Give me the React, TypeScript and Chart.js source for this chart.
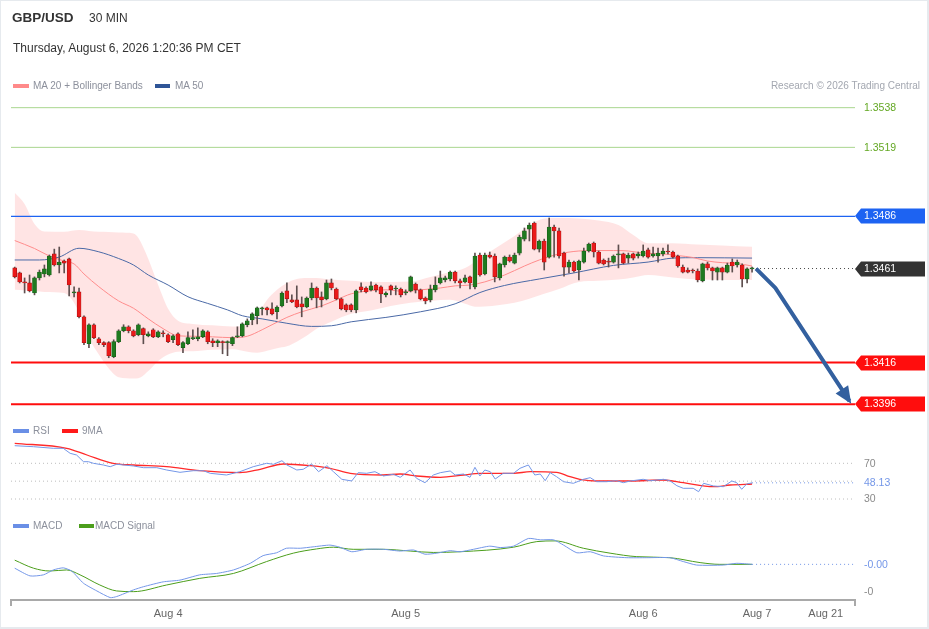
import React, { useEffect, useRef } from 'react';
import { Chart, registerables } from 'chart.js';

Chart.register(...registerables);

const FONT = '"Liberation Sans", Arial, Helvetica, sans-serif';

// ---- candles (30 min), index 0..149 ----
const opens = [1.34613,1.34589,1.34546,1.34541,1.34493,1.34565,1.34584,1.34579,1.34680,1.34627,1.34646,1.34656,1.34493,1.34498,1.34379,1.34250,1.34341,1.34274,1.34255,1.34255,1.34188,1.34260,1.34312,1.34331,1.34312,1.34293,1.34322,1.34288,1.34317,1.34283,1.34302,1.34293,1.34269,1.34298,1.34231,1.34250,1.34274,1.34274,1.34283,1.34307,1.34264,1.34255,1.34260,1.34255,1.34250,1.34283,1.34288,1.34341,1.34364,1.34384,1.34417,1.34422,1.34417,1.34403,1.34431,1.34503,1.34460,1.34460,1.34441,1.34426,1.34469,1.34517,1.34474,1.34465,1.34541,1.34512,1.34465,1.34436,1.34436,1.34412,1.34522,1.34517,1.34508,1.34531,1.34522,1.34484,1.34527,1.34512,1.34512,1.34493,1.34503,1.34536,1.34508,1.34469,1.34460,1.34508,1.34541,1.34555,1.34560,1.34593,1.34551,1.34546,1.34570,1.34522,1.34675,1.34584,1.34675,1.34670,1.34565,1.34627,1.34665,1.34636,1.34684,1.34751,1.34799,1.34828,1.34703,1.34742,1.34665,1.34809,1.34790,1.34684,1.34617,1.34641,1.34603,1.34641,1.34694,1.34732,1.34689,1.34651,1.34646,1.34641,1.34675,1.34680,1.34660,1.34680,1.34670,1.34670,1.34699,1.34670,1.34670,1.34680,1.34694,1.34689,1.34670,1.34617,1.34603,1.34603,1.34598,1.34551,1.34632,1.34613,1.34593,1.34613,1.34593,1.34641,1.34627,1.34627,1.34560,1.34608];
const highs = [1.34617,1.34593,1.34565,1.34579,1.34570,1.34603,1.34627,1.34675,1.34703,1.34713,1.34651,1.34660,1.34522,1.34517,1.34384,1.34345,1.34345,1.34279,1.34260,1.34260,1.34269,1.34317,1.34341,1.34336,1.34317,1.34345,1.34326,1.34307,1.34322,1.34312,1.34312,1.34298,1.34293,1.34302,1.34260,1.34307,1.34317,1.34326,1.34317,1.34312,1.34274,1.34269,1.34264,1.34264,1.34283,1.34331,1.34350,1.34369,1.34398,1.34426,1.34426,1.34426,1.34446,1.34431,1.34498,1.34541,1.34484,1.34527,1.34474,1.34474,1.34541,1.34522,1.34498,1.34555,1.34560,1.34517,1.34469,1.34441,1.34441,1.34508,1.34541,1.34522,1.34546,1.34536,1.34527,1.34498,1.34531,1.34527,1.34517,1.34508,1.34574,1.34541,1.34512,1.34474,1.34531,1.34570,1.34598,1.34574,1.34598,1.34598,1.34560,1.34579,1.34574,1.34684,1.34684,1.34684,1.34689,1.34680,1.34636,1.34670,1.34675,1.34684,1.34770,1.34804,1.34828,1.34833,1.34747,1.34751,1.34852,1.34818,1.34804,1.34689,1.34651,1.34646,1.34651,1.34708,1.34732,1.34737,1.34694,1.34656,1.34660,1.34675,1.34723,1.34684,1.34684,1.34684,1.34689,1.34723,1.34708,1.34713,1.34708,1.34708,1.34723,1.34694,1.34675,1.34627,1.34613,1.34608,1.34608,1.34636,1.34641,1.34617,1.34617,1.34617,1.34636,1.34656,1.34651,1.34632,1.34613,1.34617];
const lows = [1.34565,1.34541,1.34493,1.34498,1.34484,1.34555,1.34570,1.34574,1.34622,1.34589,1.34589,1.34479,1.34474,1.34374,1.34245,1.34231,1.34274,1.34245,1.34236,1.34183,1.34183,1.34255,1.34307,1.34302,1.34283,1.34288,1.34250,1.34283,1.34279,1.34279,1.34283,1.34255,1.34255,1.34241,1.34207,1.34245,1.34269,1.34264,1.34279,1.34250,1.34236,1.34236,1.34202,1.34193,1.34241,1.34279,1.34283,1.34331,1.34341,1.34345,1.34388,1.34388,1.34388,1.34369,1.34426,1.34446,1.34446,1.34422,1.34379,1.34422,1.34460,1.34422,1.34426,1.34460,1.34508,1.34460,1.34412,1.34403,1.34403,1.34398,1.34498,1.34493,1.34503,1.34498,1.34446,1.34474,1.34484,1.34484,1.34474,1.34484,1.34498,1.34493,1.34460,1.34441,1.34450,1.34498,1.34536,1.34546,1.34551,1.34541,1.34517,1.34541,1.34512,1.34512,1.34574,1.34579,1.34660,1.34546,1.34555,1.34617,1.34641,1.34632,1.34675,1.34742,1.34742,1.34699,1.34689,1.34603,1.34660,1.34665,1.34660,1.34574,1.34589,1.34593,1.34555,1.34636,1.34689,1.34665,1.34632,1.34627,1.34617,1.34636,1.34613,1.34632,1.34636,1.34651,1.34660,1.34665,1.34660,1.34665,1.34641,1.34670,1.34680,1.34660,1.34617,1.34589,1.34589,1.34589,1.34546,1.34546,1.34603,1.34555,1.34555,1.34555,1.34589,1.34593,1.34617,1.34522,1.34541,1.34593];
const closes = [1.34570,1.34546,1.34541,1.34503,1.34565,1.34593,1.34608,1.34670,1.34627,1.34641,1.34636,1.34531,1.34498,1.34379,1.34255,1.34341,1.34279,1.34255,1.34245,1.34193,1.34260,1.34312,1.34331,1.34312,1.34288,1.34341,1.34293,1.34298,1.34283,1.34307,1.34298,1.34260,1.34288,1.34245,1.34255,1.34279,1.34279,1.34283,1.34312,1.34260,1.34255,1.34264,1.34255,1.34260,1.34279,1.34288,1.34345,1.34360,1.34393,1.34422,1.34422,1.34412,1.34393,1.34426,1.34493,1.34465,1.34450,1.34426,1.34426,1.34469,1.34517,1.34469,1.34460,1.34541,1.34517,1.34465,1.34417,1.34412,1.34412,1.34503,1.34508,1.34498,1.34527,1.34508,1.34489,1.34493,1.34508,1.34517,1.34484,1.34498,1.34570,1.34508,1.34465,1.34455,1.34512,1.34531,1.34565,1.34565,1.34593,1.34551,1.34541,1.34565,1.34541,1.34670,1.34579,1.34675,1.34665,1.34570,1.34632,1.34665,1.34646,1.34675,1.34761,1.34790,1.34818,1.34703,1.34742,1.34641,1.34809,1.34790,1.34670,1.34617,1.34641,1.34598,1.34646,1.34694,1.34727,1.34689,1.34636,1.34632,1.34641,1.34670,1.34680,1.34636,1.34675,1.34660,1.34680,1.34694,1.34665,1.34680,1.34684,1.34694,1.34689,1.34665,1.34622,1.34593,1.34593,1.34598,1.34555,1.34632,1.34613,1.34598,1.34613,1.34593,1.34627,1.34622,1.34641,1.34560,1.34608,1.34613];

// ---- MA 20 + Bollinger Bands, MA 50 ----
const ma20X = [0,4,7,10,12,14,17,21,24,27,30,33,36,40,44,47,50,52,55,58,62,65,68,72,75,79,82,86,89,92,95,99,103,106,110,114,117,121,124,127,131,134,137,140,143,146,149];
const ma20Y = [1.34744,1.34706,1.34670,1.34646,1.34632,1.34584,1.34523,1.34455,1.34420,1.34369,1.34322,1.34288,1.34286,1.34283,1.34279,1.34286,1.34317,1.34341,1.34376,1.34403,1.34431,1.34460,1.34489,1.34504,1.34508,1.34500,1.34508,1.34517,1.34527,1.34531,1.34546,1.34579,1.34622,1.34651,1.34680,1.34694,1.34696,1.34696,1.34694,1.34684,1.34680,1.34672,1.34663,1.34646,1.34638,1.34634,1.34622];
const ma50X = [0,5,9,13,17,21,24,27,31,35,39,43,46,50,55,60,64,68,75,82,89,94,99,106,113,121,128,133,138,149];
const ma50Y = [1.34651,1.34651,1.34665,1.34707,1.34690,1.34658,1.34627,1.34579,1.34531,1.34475,1.34443,1.34412,1.34384,1.34369,1.34348,1.34333,1.34336,1.34355,1.34376,1.34403,1.34441,1.34495,1.34529,1.34560,1.34589,1.34625,1.34641,1.34660,1.34662,1.34660];
const bbX = [0,2,4,6,10,13,15,17,19,21,24,25,27,29,31,33,36,40,44,47,49,51,53,55,57,59,61,64,68,72,76,80,84,88,91,93,95,98,101,104,107,110,114,118,122,125,128,133,138,143,149];
const bbUpper = [1.34973,1.34919,1.34823,1.34787,1.34786,1.34794,1.34790,1.34786,1.34785,1.34782,1.34778,1.34756,1.34656,1.34531,1.34417,1.34360,1.34345,1.34338,1.34333,1.34345,1.34388,1.34460,1.34508,1.34541,1.34560,1.34565,1.34565,1.34557,1.34551,1.34546,1.34546,1.34548,1.34570,1.34593,1.34613,1.34641,1.34675,1.34720,1.34766,1.34816,1.34849,1.34852,1.34850,1.34840,1.34818,1.34770,1.34731,1.34731,1.34725,1.34720,1.34714];
const bbLower = [1.34508,1.34505,1.34503,1.34498,1.34493,1.34403,1.34279,1.34198,1.34132,1.34090,1.34084,1.34085,1.34119,1.34167,1.34198,1.34212,1.34214,1.34221,1.34224,1.34212,1.34207,1.34217,1.34229,1.34238,1.34260,1.34288,1.34322,1.34355,1.34393,1.34409,1.34431,1.34446,1.34455,1.34460,1.34441,1.34427,1.34428,1.34436,1.34446,1.34465,1.34489,1.34512,1.34546,1.34551,1.34557,1.34567,1.34579,1.34567,1.34557,1.34555,1.34555];

// ---- levels ----
const resistances = [1.3538, 1.3519];
const pivot = 1.3486;
const supports = [1.3416, 1.3396];
const lastPrice = 1.3461;
const arrowX = [149.8, 153.7, 168.7];
const arrowY = [1.3461, 1.34517, 1.33975];

// ---- RSI ----
const rsiX = [0,3.8,7.8,9.8,11.2,12.5,13.9,14.9,15.9,17.9,19.3,20.6,24,26,28.7,30.7,33.4,36.1,38.1,39.5,42.8,45.5,48.2,50.9,52.3,54,55,57,58.3,60,61.4,63.1,64.4,66.1,68.1,69.4,71.1,72.8,74.5,76.5,77.9,79.9,81.2,82.9,84.6,86,88,89,90.7,92,93,94,95,96.1,97.1,98.7,100.8,102.1,103.8,105.1,106.2,107.2,108.2,109.5,110.9,112.9,114.9,116.3,117.6,119.6,121.6,123,124.4,127,128.4,131.1,132.4,133.8,135.1,137.1,138.2,139.2,141.2,143.2,144.9,145.9,146.9,147.9,149];
const rsiY = [89.7,88.6,86.8,86.8,81.2,79.3,71.8,71.8,70,68.1,66.2,68.9,67,65.1,65.1,62.5,59.9,61.7,61.7,58.8,56.9,60.6,66.2,70,68.9,72.9,68.1,62.5,63.3,69.2,60.6,67.3,60.6,52.1,50.2,59.5,58.8,60.6,55.8,57.7,54.3,62.5,53.2,48.3,56.9,59.5,61.4,56.9,58,54.3,65.5,55.8,62.5,60.6,52.4,58.8,58.8,64.4,68.1,56.9,58,50.5,59.5,55,49.4,47.6,52.1,53.9,49.4,49.4,50.5,48.3,50.2,52.1,50.5,52.1,50.5,44.9,42,42,38.2,47.6,44.6,43.8,50.2,48.3,40.9,46.8,48.13];
const rsiMaX = [0,10.5,14.6,19.9,24,30.7,37.4,45.5,49.6,54.3,59.7,63.7,67.8,74.5,77.9,81.2,86,90.7,94,100.8,104.2,109.5,112.2,114.2,117.6,124.4,131.1,135.1,141.2,144.6,149];
const rsiMaY = [92.4,86.8,79.3,70,68.1,66.2,61.7,59.5,63.3,69.2,67.3,64.4,58.8,56.9,58,55.8,54.3,56.9,58.8,58.8,60.6,59.9,55,52.1,50.2,50.2,51.3,48.3,43.8,45.7,46.8];
const rsiLevels = [70, 50, 30];
const rsiTickLabels = [70, 30];

// ---- MACD ----
const macdX = [0,3.1,5.8,7.8,9.8,11.5,13.9,16.6,19.3,20.6,24,26,30,33.4,37.4,40.8,44.2,47.6,50.2,52.9,54.9,57.7,60.3,63.7,65.7,68.1,71.1,74.5,77.9,80.6,82.9,85.3,88,90,92.7,96,98.1,100.8,103.8,106.2,108.9,110.9,113.6,116.3,119,123.7,127.7,132.4,135.1,137.8,143.2,145.9,149];
const macdY = [-0.00032,-0.00054,-0.00051,-0.00037,-0.00031,-0.0004,-0.00075,-0.00097,-0.00116,-0.00113,-0.00094,-0.00085,-0.00071,-0.00066,-0.00051,-0.00047,-0.00037,-0.00018,0.00004,0.00012,0.00025,0.00025,0.00029,0.00034,0.00028,0.00015,0.00022,0.00022,0.00017,0.0002,0.00008,0.00011,0.00018,0.00015,0.00022,0.00031,0.00027,0.00031,0.00053,0.00049,0.00049,0.00034,0.00012,0.00015,0.00003,-0.00002,-0.00002,-0.00002,-0.00013,-0.00023,-0.00023,-0.00018,-0.00021];
const signalX = [0,3.8,7.1,10.5,13.2,17.2,20.6,24,30.7,37.4,44.2,50.9,56.3,61,64.4,68.4,74.5,79.9,84.6,90,100.8,105.5,109.2,114.9,120.3,125.7,132.4,138.5,142.5,149];
const signalY = [-0.00009,-0.00032,-0.0004,-0.00037,-0.00051,-0.0008,-0.00097,-0.00099,-0.0008,-0.00061,-0.00047,-0.00013,0.00011,0.00023,0.00028,0.00022,0.00022,0.00017,0.00013,0.00015,0.00028,0.00044,0.00046,0.00025,0.00011,0.00001,-0.00002,-0.00016,-0.00021,-0.00021];
const macdTickValues = [-0.001];

// ---- x axis ----
const tickValues = [31, 79, 127, 150, 163.9];
const tickLabels = ['Aug 4', 'Aug 5', 'Aug 6', 'Aug 7', 'Aug 21'];
const XMIN = -0.75;
const XMAX = 169.8;

const pts = (xs: number[], ys: number[]) => xs.map((x, i) => ({ x, y: ys[i] }));
const hline = (x0: number, v: number) => [{ x: x0, y: v }, { x: XMAX, y: v }];

const GREEN_LINE = '#a9d68e';
const GREEN_TEXT = '#63a823';
const BLUE = '#1d63f2';
const RED = '#ff0d0d';
const DARK = '#333333';
const IND_BLUE = '#7497e8';
const AXIS = '#a9a9a9';

const sidePlugin = {
  id: 'sideLabels',
  afterDatasetsDraw(chart: any) {
    const ctx = chart.ctx;
    const xs = chart.scales.x;
    const ys = chart.scales.y;
    const yr = chart.scales.yR;
    const ym = chart.scales.yM;
    const { left, right, bottom } = chart.chartArea;
    ctx.save();

    // axis end ticks
    ctx.strokeStyle = AXIS;
    ctx.lineWidth = 2;
    ctx.beginPath();
    ctx.moveTo(left, bottom);
    ctx.lineTo(left, bottom + 6);
    ctx.moveTo(right, bottom);
    ctx.lineTo(right, bottom + 6);
    ctx.stroke();

    // arrow head
    const n = arrowX.length;
    const x1 = xs.getPixelForValue(arrowX[n - 2]);
    const y1 = ys.getPixelForValue(arrowY[n - 2]);
    const x2 = xs.getPixelForValue(arrowX[n - 1]);
    const y2 = ys.getPixelForValue(arrowY[n - 1]);
    const L = Math.hypot(x2 - x1, y2 - y1);
    const ux = (x2 - x1) / L;
    const uy = (y2 - y1) / L;
    const tx = x2 + ux * 3;
    const ty = y2 + uy * 3;
    const bx = tx - ux * 17;
    const by = ty - uy * 17;
    ctx.fillStyle = '#33609f';
    ctx.beginPath();
    ctx.moveTo(tx, ty);
    ctx.lineTo(bx - uy * 7.5, by + ux * 7.5);
    ctx.lineTo(bx + uy * 7.5, by - ux * 7.5);
    ctx.closePath();
    ctx.fill();

    ctx.font = '10.5px ' + FONT;
    ctx.textBaseline = 'middle';
    ctx.textAlign = 'left';

    const tag = (v: number, color: string) => {
      const py = Math.round(ys.getPixelForValue(v));
      ctx.fillStyle = color;
      ctx.beginPath();
      ctx.moveTo(right, py);
      ctx.lineTo(right + 6, py - 7.5);
      ctx.lineTo(right + 70, py - 7.5);
      ctx.lineTo(right + 70, py + 7.5);
      ctx.lineTo(right + 6, py + 7.5);
      ctx.closePath();
      ctx.fill();
      ctx.fillStyle = '#ffffff';
      ctx.fillText(v.toFixed(4), right + 9, py + 0.5);
    };
    resistances.forEach((v) => {
      ctx.fillStyle = GREEN_TEXT;
      ctx.fillText(v.toFixed(4), right + 9, ys.getPixelForValue(v) + 0.5);
    });
    tag(pivot, BLUE);
    tag(lastPrice, DARK);
    supports.forEach((v) => tag(v, RED));

    // RSI labels
    ctx.fillStyle = '#8a8a8a';
    rsiTickLabels.forEach((v) => ctx.fillText(String(v), right + 9, yr.getPixelForValue(v) + 0.5));
    ctx.fillStyle = IND_BLUE;
    ctx.fillText(rsiY[rsiY.length - 1].toFixed(2), right + 9, yr.getPixelForValue(rsiY[rsiY.length - 1]) + 0.5);

    // MACD labels
    ctx.fillStyle = '#8a8a8a';
    macdTickValues.forEach((v) => ctx.fillText(v.toFixed(0), right + 9, ym.getPixelForValue(v) + 0.5));
    ctx.fillStyle = IND_BLUE;
    ctx.fillText(macdY[macdY.length - 1].toFixed(2), right + 9, ym.getPixelForValue(macdY[macdY.length - 1]) + 0.5);

    ctx.restore();
  },
};

export default function App() {
  const ref = useRef<HTMLCanvasElement>(null);

  useEffect(() => {
    const idx = opens.map((_, i) => i);
    const lineBase = { type: 'line', pointRadius: 0, pointHoverRadius: 0, fill: false };
    const datasets: any[] = [
      // arrow
      { ...lineBase, data: pts(arrowX, arrowY), borderColor: '#33609f', borderWidth: 4, borderJoinStyle: 'round', tension: 0, yAxisID: 'y', order: 0 },
      // candle bodies
      {
        type: 'bar',
        data: idx.map((i) => ({ x: i, y: [Math.min(opens[i], closes[i]), Math.max(opens[i], closes[i])] })),
        backgroundColor: idx.map((i) => (closes[i] >= opens[i] ? '#1f7a1f' : '#ea1a1a')),
        borderColor: idx.map((i) => (closes[i] >= opens[i] ? '#155c15' : '#a31010')),
        borderWidth: 0.6,
        borderSkipped: false,
        barThickness: 4,
        minBarLength: 1,
        grouped: false,
        yAxisID: 'y',
        order: 1,
      },
      // candle wicks
      {
        type: 'bar',
        data: idx.map((i) => ({ x: i, y: [lows[i], highs[i]] })),
        backgroundColor: '#5e4f4f',
        barThickness: 1,
        grouped: false,
        yAxisID: 'y',
        order: 2,
      },
      // level lines
      ...resistances.map((v) => ({ ...lineBase, data: hline(XMIN, v), borderColor: GREEN_LINE, borderWidth: 1, yAxisID: 'y', order: 3 })),
      { ...lineBase, data: hline(XMIN, pivot), borderColor: BLUE, borderWidth: 1.2, yAxisID: 'y', order: 3 },
      ...supports.map((v) => ({ ...lineBase, data: hline(XMIN, v), borderColor: RED, borderWidth: 2, yAxisID: 'y', order: 3 })),
      { ...lineBase, data: hline(arrowX[0], lastPrice), borderColor: '#444', borderWidth: 1, borderDash: [1, 3], yAxisID: 'y', order: 3 },
      // MAs
      { ...lineBase, data: pts(ma20X, ma20Y), borderColor: '#ff8c8c', borderWidth: 1, cubicInterpolationMode: 'monotone', yAxisID: 'y', order: 4 },
      { ...lineBase, data: pts(ma50X, ma50Y), borderColor: '#4a69a6', borderWidth: 1, cubicInterpolationMode: 'monotone', yAxisID: 'y', order: 4 },
      // Bollinger band
      { ...lineBase, data: pts(bbX, bbUpper), borderWidth: 0, borderColor: 'rgba(0,0,0,0)', backgroundColor: 'rgba(255,0,0,0.105)', fill: '+1', cubicInterpolationMode: 'monotone', yAxisID: 'y', order: 5 },
      { ...lineBase, data: pts(bbX, bbLower), borderWidth: 0, borderColor: 'rgba(0,0,0,0)', cubicInterpolationMode: 'monotone', yAxisID: 'y', order: 5 },
      // RSI panel
      ...rsiLevels.map((v) => ({ ...lineBase, data: hline(XMIN, v), borderColor: '#bdbdbd', borderWidth: 1, borderDash: [1, 3], yAxisID: 'yR', order: 6 })),
      { ...lineBase, data: hline(rsiX[rsiX.length - 1], rsiY[rsiY.length - 1]), borderColor: IND_BLUE, borderWidth: 1, borderDash: [1, 3], yAxisID: 'yR', order: 5 },
      { ...lineBase, data: pts(rsiMaX, rsiMaY), borderColor: '#ff2a2a', borderWidth: 1.3, cubicInterpolationMode: 'monotone', yAxisID: 'yR', order: 4 },
      { ...lineBase, data: pts(rsiX, rsiY), borderColor: IND_BLUE, borderWidth: 1, tension: 0, yAxisID: 'yR', order: 3 },
      // MACD panel
      { ...lineBase, data: hline(macdX[macdX.length - 1], macdY[macdY.length - 1]), borderColor: IND_BLUE, borderWidth: 1, borderDash: [1, 3], yAxisID: 'yM', order: 5 },
      { ...lineBase, data: pts(signalX, signalY), borderColor: '#4c9e1c', borderWidth: 1, cubicInterpolationMode: 'monotone', yAxisID: 'yM', order: 4 },
      { ...lineBase, data: pts(macdX, macdY), borderColor: IND_BLUE, borderWidth: 1, tension: 0.2, yAxisID: 'yM', order: 3 },
    ];

    const chart = new Chart(ref.current as HTMLCanvasElement, {
      type: 'bar',
      data: { datasets },
      plugins: [sidePlugin],
      options: {
        responsive: false,
        animation: false,
        events: [],
        layout: { padding: { left: 11, right: 74, top: 95, bottom: 0 } },
        plugins: { legend: { display: false }, tooltip: { enabled: false } },
        scales: {
          x: {
            type: 'linear',
            min: XMIN,
            max: XMAX,
            offset: false,
            afterBuildTicks: (scale: any) => {
              scale.ticks = tickValues.map((v) => ({ value: v }));
            },
            afterFit: (scale: any) => {
              scale.height = 29;
            },
            grid: { display: false, drawTicks: false },
            border: { display: true, color: AXIS, width: 2 },
            ticks: {
              autoSkip: false,
              maxRotation: 0,
              minRotation: 0,
              padding: 7,
              color: '#666',
              font: { size: 11, family: FONT },
              callback: (value: any) => {
                const k = tickValues.indexOf(Number(value));
                return k >= 0 ? tickLabels[k] : '';
              },
            },
          },
          y: { type: 'linear', display: false, min: 1.330233, max: 1.354407 },
          yR: { type: 'linear', display: false, min: -83.08, max: 482.43 },
          yM: { type: 'linear', display: false, min: -0.0012286, max: 0.0132 },
        },
      } as any,
    } as any);
    return () => chart.destroy();
  }, []);

  const text = (extra: any) => ({
    position: 'absolute' as const,
    whiteSpace: 'nowrap' as const,
    lineHeight: '16px',
    fontFamily: FONT,
    ...extra,
  });
  const sw = (left: number, top: number, width: number, color: string) => (
    <div style={{ position: 'absolute', left, top, width, height: 4, background: color }} />
  );

  return (
    <div style={{ position: 'absolute', left: 0, top: 0, width: 929, height: 629, background: '#fff', overflow: 'hidden' }}>
      <canvas ref={ref} width={929} height={629} style={{ position: 'absolute', left: 0, top: 0 }} />
      <div style={text({ left: 12, top: 10, fontSize: 13.5, fontWeight: 'bold', color: '#333' })}>GBP/USD</div>
      <div style={text({ left: 89, top: 10, fontSize: 12, color: '#333' })}>30 MIN</div>
      <div style={text({ left: 13, top: 40, fontSize: 12, color: '#333' })}>Thursday, August 6, 2026 1:20:36 PM CET</div>

      {sw(13, 84, 16, '#ff8a8a')}
      <div style={text({ left: 33, top: 78, fontSize: 10, color: '#8c909c' })}>MA 20 + Bollinger Bands</div>
      {sw(155, 84, 15, '#2f5597')}
      <div style={text({ left: 175, top: 78, fontSize: 10, color: '#8c909c' })}>MA 50</div>
      <div style={text({ right: 9, top: 78, fontSize: 10, color: '#a3a7b0' })}>Research © 2026 Trading Central</div>

      {sw(13, 429, 16, '#6a8fe6')}
      <div style={text({ left: 33, top: 423, fontSize: 10, color: '#8c909c' })}>RSI</div>
      {sw(62, 429, 16, '#ff1a1a')}
      <div style={text({ left: 82, top: 423, fontSize: 10, color: '#8c909c' })}>9MA</div>

      {sw(13, 524, 16, '#6a8fe6')}
      <div style={text({ left: 33, top: 518, fontSize: 10, color: '#8c909c' })}>MACD</div>
      {sw(79, 524, 15, '#4c9e1c')}
      <div style={text({ left: 95, top: 518, fontSize: 10, color: '#8c909c' })}>MACD Signal</div>

      <div style={{ position: 'absolute', left: 0, top: 0, width: 929, height: 629, boxSizing: 'border-box', border: '1px solid #e6eaee', borderRightWidth: 2, borderBottomWidth: 2, pointerEvents: 'none' }} />
    </div>
  );
}
